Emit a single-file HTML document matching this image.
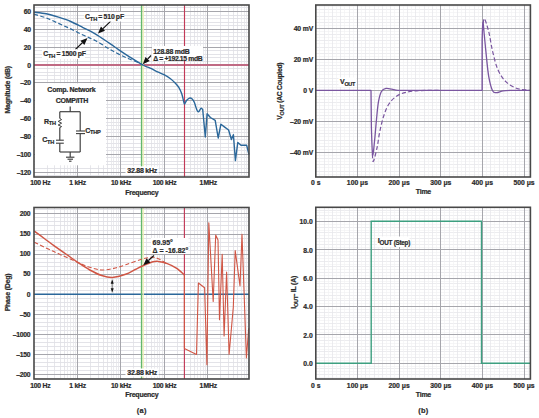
<!DOCTYPE html>
<html><head><meta charset="utf-8"><style>
html,body{margin:0;padding:0;background:#fff;width:539px;height:418px;overflow:hidden;position:relative}
</style></head><body>
<svg width="539" height="418" viewBox="0 0 539 418" style="position:absolute;left:0;top:0">
<rect width="539" height="418" fill="#fff"/>
<g font-family='"Liberation Sans", sans-serif' style="letter-spacing:-0.25px">
<line x1="34" y1="175.5" x2="249" y2="175.5" stroke="#dcdce2" stroke-width="0.8"/>
<line x1="34" y1="168.5" x2="249" y2="168.5" stroke="#dcdce2" stroke-width="0.8"/>
<line x1="34" y1="164.5" x2="249" y2="164.5" stroke="#dcdce2" stroke-width="0.8"/>
<line x1="34" y1="161.5" x2="249" y2="161.5" stroke="#dcdce2" stroke-width="0.8"/>
<line x1="34" y1="157.5" x2="249" y2="157.5" stroke="#dcdce2" stroke-width="0.8"/>
<line x1="34" y1="150.5" x2="249" y2="150.5" stroke="#dcdce2" stroke-width="0.8"/>
<line x1="34" y1="147.5" x2="249" y2="147.5" stroke="#dcdce2" stroke-width="0.8"/>
<line x1="34" y1="143.5" x2="249" y2="143.5" stroke="#dcdce2" stroke-width="0.8"/>
<line x1="34" y1="139.5" x2="249" y2="139.5" stroke="#dcdce2" stroke-width="0.8"/>
<line x1="34" y1="132.5" x2="249" y2="132.5" stroke="#dcdce2" stroke-width="0.8"/>
<line x1="34" y1="129.5" x2="249" y2="129.5" stroke="#dcdce2" stroke-width="0.8"/>
<line x1="34" y1="125.5" x2="249" y2="125.5" stroke="#dcdce2" stroke-width="0.8"/>
<line x1="34" y1="122.5" x2="249" y2="122.5" stroke="#dcdce2" stroke-width="0.8"/>
<line x1="34" y1="114.5" x2="249" y2="114.5" stroke="#dcdce2" stroke-width="0.8"/>
<line x1="34" y1="111.5" x2="249" y2="111.5" stroke="#dcdce2" stroke-width="0.8"/>
<line x1="34" y1="107.5" x2="249" y2="107.5" stroke="#dcdce2" stroke-width="0.8"/>
<line x1="34" y1="104.5" x2="249" y2="104.5" stroke="#dcdce2" stroke-width="0.8"/>
<line x1="34" y1="97.5" x2="249" y2="97.5" stroke="#dcdce2" stroke-width="0.8"/>
<line x1="34" y1="93.5" x2="249" y2="93.5" stroke="#dcdce2" stroke-width="0.8"/>
<line x1="34" y1="89.5" x2="249" y2="89.5" stroke="#dcdce2" stroke-width="0.8"/>
<line x1="34" y1="86.5" x2="249" y2="86.5" stroke="#dcdce2" stroke-width="0.8"/>
<line x1="34" y1="79.5" x2="249" y2="79.5" stroke="#dcdce2" stroke-width="0.8"/>
<line x1="34" y1="75.5" x2="249" y2="75.5" stroke="#dcdce2" stroke-width="0.8"/>
<line x1="34" y1="72.5" x2="249" y2="72.5" stroke="#dcdce2" stroke-width="0.8"/>
<line x1="34" y1="68.5" x2="249" y2="68.5" stroke="#dcdce2" stroke-width="0.8"/>
<line x1="34" y1="61.5" x2="249" y2="61.5" stroke="#dcdce2" stroke-width="0.8"/>
<line x1="34" y1="57.5" x2="249" y2="57.5" stroke="#dcdce2" stroke-width="0.8"/>
<line x1="34" y1="54.5" x2="249" y2="54.5" stroke="#dcdce2" stroke-width="0.8"/>
<line x1="34" y1="50.5" x2="249" y2="50.5" stroke="#dcdce2" stroke-width="0.8"/>
<line x1="34" y1="43.5" x2="249" y2="43.5" stroke="#dcdce2" stroke-width="0.8"/>
<line x1="34" y1="40.5" x2="249" y2="40.5" stroke="#dcdce2" stroke-width="0.8"/>
<line x1="34" y1="36.5" x2="249" y2="36.5" stroke="#dcdce2" stroke-width="0.8"/>
<line x1="34" y1="32.5" x2="249" y2="32.5" stroke="#dcdce2" stroke-width="0.8"/>
<line x1="34" y1="25.5" x2="249" y2="25.5" stroke="#dcdce2" stroke-width="0.8"/>
<line x1="34" y1="22.5" x2="249" y2="22.5" stroke="#dcdce2" stroke-width="0.8"/>
<line x1="34" y1="18.5" x2="249" y2="18.5" stroke="#dcdce2" stroke-width="0.8"/>
<line x1="34" y1="15.5" x2="249" y2="15.5" stroke="#dcdce2" stroke-width="0.8"/>
<line x1="34" y1="7.5" x2="249" y2="7.5" stroke="#dcdce2" stroke-width="0.8"/>
<line x1="47.5" y1="5" x2="47.5" y2="177" stroke="#dfdfe4" stroke-width="0.8"/>
<line x1="54.5" y1="5" x2="54.5" y2="177" stroke="#dfdfe4" stroke-width="0.8"/>
<line x1="60.5" y1="5" x2="60.5" y2="177" stroke="#dfdfe4" stroke-width="0.8"/>
<line x1="64.5" y1="5" x2="64.5" y2="177" stroke="#dfdfe4" stroke-width="0.8"/>
<line x1="67.5" y1="5" x2="67.5" y2="177" stroke="#e6e6ea" stroke-width="0.8"/>
<line x1="70.5" y1="5" x2="70.5" y2="177" stroke="#e6e6ea" stroke-width="0.8"/>
<line x1="73.5" y1="5" x2="73.5" y2="177" stroke="#e6e6ea" stroke-width="0.8"/>
<line x1="75.5" y1="5" x2="75.5" y2="177" stroke="#e6e6ea" stroke-width="0.8"/>
<line x1="90.5" y1="5" x2="90.5" y2="177" stroke="#dfdfe4" stroke-width="0.8"/>
<line x1="98.5" y1="5" x2="98.5" y2="177" stroke="#dfdfe4" stroke-width="0.8"/>
<line x1="103.5" y1="5" x2="103.5" y2="177" stroke="#dfdfe4" stroke-width="0.8"/>
<line x1="107.5" y1="5" x2="107.5" y2="177" stroke="#dfdfe4" stroke-width="0.8"/>
<line x1="111.5" y1="5" x2="111.5" y2="177" stroke="#e6e6ea" stroke-width="0.8"/>
<line x1="113.5" y1="5" x2="113.5" y2="177" stroke="#e6e6ea" stroke-width="0.8"/>
<line x1="116.5" y1="5" x2="116.5" y2="177" stroke="#e6e6ea" stroke-width="0.8"/>
<line x1="118.5" y1="5" x2="118.5" y2="177" stroke="#e6e6ea" stroke-width="0.8"/>
<line x1="133.5" y1="5" x2="133.5" y2="177" stroke="#dfdfe4" stroke-width="0.8"/>
<line x1="141.5" y1="5" x2="141.5" y2="177" stroke="#dfdfe4" stroke-width="0.8"/>
<line x1="146.5" y1="5" x2="146.5" y2="177" stroke="#dfdfe4" stroke-width="0.8"/>
<line x1="151.5" y1="5" x2="151.5" y2="177" stroke="#dfdfe4" stroke-width="0.8"/>
<line x1="154.5" y1="5" x2="154.5" y2="177" stroke="#e6e6ea" stroke-width="0.8"/>
<line x1="157.5" y1="5" x2="157.5" y2="177" stroke="#e6e6ea" stroke-width="0.8"/>
<line x1="159.5" y1="5" x2="159.5" y2="177" stroke="#e6e6ea" stroke-width="0.8"/>
<line x1="162.5" y1="5" x2="162.5" y2="177" stroke="#e6e6ea" stroke-width="0.8"/>
<line x1="177.5" y1="5" x2="177.5" y2="177" stroke="#dfdfe4" stroke-width="0.8"/>
<line x1="184.5" y1="5" x2="184.5" y2="177" stroke="#dfdfe4" stroke-width="0.8"/>
<line x1="190.5" y1="5" x2="190.5" y2="177" stroke="#dfdfe4" stroke-width="0.8"/>
<line x1="194.5" y1="5" x2="194.5" y2="177" stroke="#dfdfe4" stroke-width="0.8"/>
<line x1="197.5" y1="5" x2="197.5" y2="177" stroke="#e6e6ea" stroke-width="0.8"/>
<line x1="200.5" y1="5" x2="200.5" y2="177" stroke="#e6e6ea" stroke-width="0.8"/>
<line x1="203.5" y1="5" x2="203.5" y2="177" stroke="#e6e6ea" stroke-width="0.8"/>
<line x1="205.5" y1="5" x2="205.5" y2="177" stroke="#e6e6ea" stroke-width="0.8"/>
<line x1="220.5" y1="5" x2="220.5" y2="177" stroke="#dfdfe4" stroke-width="0.8"/>
<line x1="228.5" y1="5" x2="228.5" y2="177" stroke="#dfdfe4" stroke-width="0.8"/>
<line x1="233.5" y1="5" x2="233.5" y2="177" stroke="#dfdfe4" stroke-width="0.8"/>
<line x1="237.5" y1="5" x2="237.5" y2="177" stroke="#dfdfe4" stroke-width="0.8"/>
<line x1="241.5" y1="5" x2="241.5" y2="177" stroke="#e6e6ea" stroke-width="0.8"/>
<line x1="244.5" y1="5" x2="244.5" y2="177" stroke="#e6e6ea" stroke-width="0.8"/>
<line x1="246.5" y1="5" x2="246.5" y2="177" stroke="#e6e6ea" stroke-width="0.8"/>
<line x1="248.5" y1="5" x2="248.5" y2="177" stroke="#e6e6ea" stroke-width="0.8"/>
<line x1="34" y1="378.5" x2="249" y2="378.5" stroke="#dcdce2" stroke-width="0.8"/>
<line x1="34" y1="370.5" x2="249" y2="370.5" stroke="#dcdce2" stroke-width="0.8"/>
<line x1="34" y1="366.5" x2="249" y2="366.5" stroke="#dcdce2" stroke-width="0.8"/>
<line x1="34" y1="362.5" x2="249" y2="362.5" stroke="#dcdce2" stroke-width="0.8"/>
<line x1="34" y1="358.5" x2="249" y2="358.5" stroke="#dcdce2" stroke-width="0.8"/>
<line x1="34" y1="350.5" x2="249" y2="350.5" stroke="#dcdce2" stroke-width="0.8"/>
<line x1="34" y1="346.5" x2="249" y2="346.5" stroke="#dcdce2" stroke-width="0.8"/>
<line x1="34" y1="342.5" x2="249" y2="342.5" stroke="#dcdce2" stroke-width="0.8"/>
<line x1="34" y1="338.5" x2="249" y2="338.5" stroke="#dcdce2" stroke-width="0.8"/>
<line x1="34" y1="330.5" x2="249" y2="330.5" stroke="#dcdce2" stroke-width="0.8"/>
<line x1="34" y1="326.5" x2="249" y2="326.5" stroke="#dcdce2" stroke-width="0.8"/>
<line x1="34" y1="322.5" x2="249" y2="322.5" stroke="#dcdce2" stroke-width="0.8"/>
<line x1="34" y1="318.5" x2="249" y2="318.5" stroke="#dcdce2" stroke-width="0.8"/>
<line x1="34" y1="310.5" x2="249" y2="310.5" stroke="#dcdce2" stroke-width="0.8"/>
<line x1="34" y1="306.5" x2="249" y2="306.5" stroke="#dcdce2" stroke-width="0.8"/>
<line x1="34" y1="302.5" x2="249" y2="302.5" stroke="#dcdce2" stroke-width="0.8"/>
<line x1="34" y1="298.5" x2="249" y2="298.5" stroke="#dcdce2" stroke-width="0.8"/>
<line x1="34" y1="290.5" x2="249" y2="290.5" stroke="#dcdce2" stroke-width="0.8"/>
<line x1="34" y1="286.5" x2="249" y2="286.5" stroke="#dcdce2" stroke-width="0.8"/>
<line x1="34" y1="282.5" x2="249" y2="282.5" stroke="#dcdce2" stroke-width="0.8"/>
<line x1="34" y1="278.5" x2="249" y2="278.5" stroke="#dcdce2" stroke-width="0.8"/>
<line x1="34" y1="270.5" x2="249" y2="270.5" stroke="#dcdce2" stroke-width="0.8"/>
<line x1="34" y1="266.5" x2="249" y2="266.5" stroke="#dcdce2" stroke-width="0.8"/>
<line x1="34" y1="262.5" x2="249" y2="262.5" stroke="#dcdce2" stroke-width="0.8"/>
<line x1="34" y1="258.5" x2="249" y2="258.5" stroke="#dcdce2" stroke-width="0.8"/>
<line x1="34" y1="250.5" x2="249" y2="250.5" stroke="#dcdce2" stroke-width="0.8"/>
<line x1="34" y1="246.5" x2="249" y2="246.5" stroke="#dcdce2" stroke-width="0.8"/>
<line x1="34" y1="242.5" x2="249" y2="242.5" stroke="#dcdce2" stroke-width="0.8"/>
<line x1="34" y1="238.5" x2="249" y2="238.5" stroke="#dcdce2" stroke-width="0.8"/>
<line x1="34" y1="230.5" x2="249" y2="230.5" stroke="#dcdce2" stroke-width="0.8"/>
<line x1="34" y1="225.5" x2="249" y2="225.5" stroke="#dcdce2" stroke-width="0.8"/>
<line x1="34" y1="221.5" x2="249" y2="221.5" stroke="#dcdce2" stroke-width="0.8"/>
<line x1="34" y1="217.5" x2="249" y2="217.5" stroke="#dcdce2" stroke-width="0.8"/>
<line x1="34" y1="209.5" x2="249" y2="209.5" stroke="#dcdce2" stroke-width="0.8"/>
<line x1="47.5" y1="207.5" x2="47.5" y2="379" stroke="#dfdfe4" stroke-width="0.8"/>
<line x1="54.5" y1="207.5" x2="54.5" y2="379" stroke="#dfdfe4" stroke-width="0.8"/>
<line x1="60.5" y1="207.5" x2="60.5" y2="379" stroke="#dfdfe4" stroke-width="0.8"/>
<line x1="64.5" y1="207.5" x2="64.5" y2="379" stroke="#dfdfe4" stroke-width="0.8"/>
<line x1="67.5" y1="207.5" x2="67.5" y2="379" stroke="#e6e6ea" stroke-width="0.8"/>
<line x1="70.5" y1="207.5" x2="70.5" y2="379" stroke="#e6e6ea" stroke-width="0.8"/>
<line x1="73.5" y1="207.5" x2="73.5" y2="379" stroke="#e6e6ea" stroke-width="0.8"/>
<line x1="75.5" y1="207.5" x2="75.5" y2="379" stroke="#e6e6ea" stroke-width="0.8"/>
<line x1="90.5" y1="207.5" x2="90.5" y2="379" stroke="#dfdfe4" stroke-width="0.8"/>
<line x1="98.5" y1="207.5" x2="98.5" y2="379" stroke="#dfdfe4" stroke-width="0.8"/>
<line x1="103.5" y1="207.5" x2="103.5" y2="379" stroke="#dfdfe4" stroke-width="0.8"/>
<line x1="107.5" y1="207.5" x2="107.5" y2="379" stroke="#dfdfe4" stroke-width="0.8"/>
<line x1="111.5" y1="207.5" x2="111.5" y2="379" stroke="#e6e6ea" stroke-width="0.8"/>
<line x1="113.5" y1="207.5" x2="113.5" y2="379" stroke="#e6e6ea" stroke-width="0.8"/>
<line x1="116.5" y1="207.5" x2="116.5" y2="379" stroke="#e6e6ea" stroke-width="0.8"/>
<line x1="118.5" y1="207.5" x2="118.5" y2="379" stroke="#e6e6ea" stroke-width="0.8"/>
<line x1="133.5" y1="207.5" x2="133.5" y2="379" stroke="#dfdfe4" stroke-width="0.8"/>
<line x1="141.5" y1="207.5" x2="141.5" y2="379" stroke="#dfdfe4" stroke-width="0.8"/>
<line x1="146.5" y1="207.5" x2="146.5" y2="379" stroke="#dfdfe4" stroke-width="0.8"/>
<line x1="151.5" y1="207.5" x2="151.5" y2="379" stroke="#dfdfe4" stroke-width="0.8"/>
<line x1="154.5" y1="207.5" x2="154.5" y2="379" stroke="#e6e6ea" stroke-width="0.8"/>
<line x1="157.5" y1="207.5" x2="157.5" y2="379" stroke="#e6e6ea" stroke-width="0.8"/>
<line x1="159.5" y1="207.5" x2="159.5" y2="379" stroke="#e6e6ea" stroke-width="0.8"/>
<line x1="162.5" y1="207.5" x2="162.5" y2="379" stroke="#e6e6ea" stroke-width="0.8"/>
<line x1="177.5" y1="207.5" x2="177.5" y2="379" stroke="#dfdfe4" stroke-width="0.8"/>
<line x1="184.5" y1="207.5" x2="184.5" y2="379" stroke="#dfdfe4" stroke-width="0.8"/>
<line x1="190.5" y1="207.5" x2="190.5" y2="379" stroke="#dfdfe4" stroke-width="0.8"/>
<line x1="194.5" y1="207.5" x2="194.5" y2="379" stroke="#dfdfe4" stroke-width="0.8"/>
<line x1="197.5" y1="207.5" x2="197.5" y2="379" stroke="#e6e6ea" stroke-width="0.8"/>
<line x1="200.5" y1="207.5" x2="200.5" y2="379" stroke="#e6e6ea" stroke-width="0.8"/>
<line x1="203.5" y1="207.5" x2="203.5" y2="379" stroke="#e6e6ea" stroke-width="0.8"/>
<line x1="205.5" y1="207.5" x2="205.5" y2="379" stroke="#e6e6ea" stroke-width="0.8"/>
<line x1="220.5" y1="207.5" x2="220.5" y2="379" stroke="#dfdfe4" stroke-width="0.8"/>
<line x1="228.5" y1="207.5" x2="228.5" y2="379" stroke="#dfdfe4" stroke-width="0.8"/>
<line x1="233.5" y1="207.5" x2="233.5" y2="379" stroke="#dfdfe4" stroke-width="0.8"/>
<line x1="237.5" y1="207.5" x2="237.5" y2="379" stroke="#dfdfe4" stroke-width="0.8"/>
<line x1="241.5" y1="207.5" x2="241.5" y2="379" stroke="#e6e6ea" stroke-width="0.8"/>
<line x1="244.5" y1="207.5" x2="244.5" y2="379" stroke="#e6e6ea" stroke-width="0.8"/>
<line x1="246.5" y1="207.5" x2="246.5" y2="379" stroke="#e6e6ea" stroke-width="0.8"/>
<line x1="248.5" y1="207.5" x2="248.5" y2="379" stroke="#e6e6ea" stroke-width="0.8"/>
<line x1="315.8" y1="174.5" x2="530.4" y2="174.5" stroke="#f2f2f4" stroke-width="0.7"/>
<line x1="315.8" y1="171.5" x2="530.4" y2="171.5" stroke="#e7e7eb" stroke-width="0.8"/>
<line x1="315.8" y1="167.5" x2="530.4" y2="167.5" stroke="#f2f2f4" stroke-width="0.7"/>
<line x1="315.8" y1="164.5" x2="530.4" y2="164.5" stroke="#e7e7eb" stroke-width="0.8"/>
<line x1="315.8" y1="161.5" x2="530.4" y2="161.5" stroke="#f2f2f4" stroke-width="0.7"/>
<line x1="315.8" y1="158.5" x2="530.4" y2="158.5" stroke="#e7e7eb" stroke-width="0.8"/>
<line x1="315.8" y1="155.5" x2="530.4" y2="155.5" stroke="#f2f2f4" stroke-width="0.7"/>
<line x1="315.8" y1="149.5" x2="530.4" y2="149.5" stroke="#f2f2f4" stroke-width="0.7"/>
<line x1="315.8" y1="146.5" x2="530.4" y2="146.5" stroke="#e7e7eb" stroke-width="0.8"/>
<line x1="315.8" y1="143.5" x2="530.4" y2="143.5" stroke="#f2f2f4" stroke-width="0.7"/>
<line x1="315.8" y1="140.5" x2="530.4" y2="140.5" stroke="#e7e7eb" stroke-width="0.8"/>
<line x1="315.8" y1="136.5" x2="530.4" y2="136.5" stroke="#f2f2f4" stroke-width="0.7"/>
<line x1="315.8" y1="133.5" x2="530.4" y2="133.5" stroke="#e7e7eb" stroke-width="0.8"/>
<line x1="315.8" y1="130.5" x2="530.4" y2="130.5" stroke="#f2f2f4" stroke-width="0.7"/>
<line x1="315.8" y1="127.5" x2="530.4" y2="127.5" stroke="#e7e7eb" stroke-width="0.8"/>
<line x1="315.8" y1="124.5" x2="530.4" y2="124.5" stroke="#f2f2f4" stroke-width="0.7"/>
<line x1="315.8" y1="118.5" x2="530.4" y2="118.5" stroke="#f2f2f4" stroke-width="0.7"/>
<line x1="315.8" y1="115.5" x2="530.4" y2="115.5" stroke="#e7e7eb" stroke-width="0.8"/>
<line x1="315.8" y1="112.5" x2="530.4" y2="112.5" stroke="#f2f2f4" stroke-width="0.7"/>
<line x1="315.8" y1="109.5" x2="530.4" y2="109.5" stroke="#e7e7eb" stroke-width="0.8"/>
<line x1="315.8" y1="105.5" x2="530.4" y2="105.5" stroke="#f2f2f4" stroke-width="0.7"/>
<line x1="315.8" y1="102.5" x2="530.4" y2="102.5" stroke="#e7e7eb" stroke-width="0.8"/>
<line x1="315.8" y1="99.5" x2="530.4" y2="99.5" stroke="#f2f2f4" stroke-width="0.7"/>
<line x1="315.8" y1="96.5" x2="530.4" y2="96.5" stroke="#e7e7eb" stroke-width="0.8"/>
<line x1="315.8" y1="93.5" x2="530.4" y2="93.5" stroke="#f2f2f4" stroke-width="0.7"/>
<line x1="315.8" y1="87.5" x2="530.4" y2="87.5" stroke="#f2f2f4" stroke-width="0.7"/>
<line x1="315.8" y1="84.5" x2="530.4" y2="84.5" stroke="#e7e7eb" stroke-width="0.8"/>
<line x1="315.8" y1="81.5" x2="530.4" y2="81.5" stroke="#f2f2f4" stroke-width="0.7"/>
<line x1="315.8" y1="78.5" x2="530.4" y2="78.5" stroke="#e7e7eb" stroke-width="0.8"/>
<line x1="315.8" y1="74.5" x2="530.4" y2="74.5" stroke="#f2f2f4" stroke-width="0.7"/>
<line x1="315.8" y1="71.5" x2="530.4" y2="71.5" stroke="#e7e7eb" stroke-width="0.8"/>
<line x1="315.8" y1="68.5" x2="530.4" y2="68.5" stroke="#f2f2f4" stroke-width="0.7"/>
<line x1="315.8" y1="65.5" x2="530.4" y2="65.5" stroke="#e7e7eb" stroke-width="0.8"/>
<line x1="315.8" y1="62.5" x2="530.4" y2="62.5" stroke="#f2f2f4" stroke-width="0.7"/>
<line x1="315.8" y1="56.5" x2="530.4" y2="56.5" stroke="#f2f2f4" stroke-width="0.7"/>
<line x1="315.8" y1="53.5" x2="530.4" y2="53.5" stroke="#e7e7eb" stroke-width="0.8"/>
<line x1="315.8" y1="50.5" x2="530.4" y2="50.5" stroke="#f2f2f4" stroke-width="0.7"/>
<line x1="315.8" y1="47.5" x2="530.4" y2="47.5" stroke="#e7e7eb" stroke-width="0.8"/>
<line x1="315.8" y1="43.5" x2="530.4" y2="43.5" stroke="#f2f2f4" stroke-width="0.7"/>
<line x1="315.8" y1="40.5" x2="530.4" y2="40.5" stroke="#e7e7eb" stroke-width="0.8"/>
<line x1="315.8" y1="37.5" x2="530.4" y2="37.5" stroke="#f2f2f4" stroke-width="0.7"/>
<line x1="315.8" y1="34.5" x2="530.4" y2="34.5" stroke="#e7e7eb" stroke-width="0.8"/>
<line x1="315.8" y1="31.5" x2="530.4" y2="31.5" stroke="#f2f2f4" stroke-width="0.7"/>
<line x1="315.8" y1="25.5" x2="530.4" y2="25.5" stroke="#f2f2f4" stroke-width="0.7"/>
<line x1="315.8" y1="22.5" x2="530.4" y2="22.5" stroke="#e7e7eb" stroke-width="0.8"/>
<line x1="315.8" y1="19.5" x2="530.4" y2="19.5" stroke="#f2f2f4" stroke-width="0.7"/>
<line x1="315.8" y1="16.5" x2="530.4" y2="16.5" stroke="#e7e7eb" stroke-width="0.8"/>
<line x1="315.8" y1="12.5" x2="530.4" y2="12.5" stroke="#f2f2f4" stroke-width="0.7"/>
<line x1="315.8" y1="9.5" x2="530.4" y2="9.5" stroke="#e7e7eb" stroke-width="0.8"/>
<line x1="315.8" y1="6.5" x2="530.4" y2="6.5" stroke="#f2f2f4" stroke-width="0.7"/>
<line x1="319.5" y1="5" x2="319.5" y2="177" stroke="#f2f2f4" stroke-width="0.7"/>
<line x1="324.5" y1="5" x2="324.5" y2="177" stroke="#e7e7eb" stroke-width="0.8"/>
<line x1="328.5" y1="5" x2="328.5" y2="177" stroke="#f2f2f4" stroke-width="0.7"/>
<line x1="332.5" y1="5" x2="332.5" y2="177" stroke="#e7e7eb" stroke-width="0.8"/>
<line x1="336.5" y1="5" x2="336.5" y2="177" stroke="#f2f2f4" stroke-width="0.7"/>
<line x1="340.5" y1="5" x2="340.5" y2="177" stroke="#e7e7eb" stroke-width="0.8"/>
<line x1="344.5" y1="5" x2="344.5" y2="177" stroke="#f2f2f4" stroke-width="0.7"/>
<line x1="349.5" y1="5" x2="349.5" y2="177" stroke="#e7e7eb" stroke-width="0.8"/>
<line x1="353.5" y1="5" x2="353.5" y2="177" stroke="#f2f2f4" stroke-width="0.7"/>
<line x1="361.5" y1="5" x2="361.5" y2="177" stroke="#f2f2f4" stroke-width="0.7"/>
<line x1="365.5" y1="5" x2="365.5" y2="177" stroke="#e7e7eb" stroke-width="0.8"/>
<line x1="369.5" y1="5" x2="369.5" y2="177" stroke="#f2f2f4" stroke-width="0.7"/>
<line x1="374.5" y1="5" x2="374.5" y2="177" stroke="#e7e7eb" stroke-width="0.8"/>
<line x1="378.5" y1="5" x2="378.5" y2="177" stroke="#f2f2f4" stroke-width="0.7"/>
<line x1="382.5" y1="5" x2="382.5" y2="177" stroke="#e7e7eb" stroke-width="0.8"/>
<line x1="386.5" y1="5" x2="386.5" y2="177" stroke="#f2f2f4" stroke-width="0.7"/>
<line x1="390.5" y1="5" x2="390.5" y2="177" stroke="#e7e7eb" stroke-width="0.8"/>
<line x1="394.5" y1="5" x2="394.5" y2="177" stroke="#f2f2f4" stroke-width="0.7"/>
<line x1="403.5" y1="5" x2="403.5" y2="177" stroke="#f2f2f4" stroke-width="0.7"/>
<line x1="407.5" y1="5" x2="407.5" y2="177" stroke="#e7e7eb" stroke-width="0.8"/>
<line x1="411.5" y1="5" x2="411.5" y2="177" stroke="#f2f2f4" stroke-width="0.7"/>
<line x1="415.5" y1="5" x2="415.5" y2="177" stroke="#e7e7eb" stroke-width="0.8"/>
<line x1="419.5" y1="5" x2="419.5" y2="177" stroke="#f2f2f4" stroke-width="0.7"/>
<line x1="424.5" y1="5" x2="424.5" y2="177" stroke="#e7e7eb" stroke-width="0.8"/>
<line x1="428.5" y1="5" x2="428.5" y2="177" stroke="#f2f2f4" stroke-width="0.7"/>
<line x1="432.5" y1="5" x2="432.5" y2="177" stroke="#e7e7eb" stroke-width="0.8"/>
<line x1="436.5" y1="5" x2="436.5" y2="177" stroke="#f2f2f4" stroke-width="0.7"/>
<line x1="444.5" y1="5" x2="444.5" y2="177" stroke="#f2f2f4" stroke-width="0.7"/>
<line x1="449.5" y1="5" x2="449.5" y2="177" stroke="#e7e7eb" stroke-width="0.8"/>
<line x1="453.5" y1="5" x2="453.5" y2="177" stroke="#f2f2f4" stroke-width="0.7"/>
<line x1="457.5" y1="5" x2="457.5" y2="177" stroke="#e7e7eb" stroke-width="0.8"/>
<line x1="461.5" y1="5" x2="461.5" y2="177" stroke="#f2f2f4" stroke-width="0.7"/>
<line x1="465.5" y1="5" x2="465.5" y2="177" stroke="#e7e7eb" stroke-width="0.8"/>
<line x1="469.5" y1="5" x2="469.5" y2="177" stroke="#f2f2f4" stroke-width="0.7"/>
<line x1="474.5" y1="5" x2="474.5" y2="177" stroke="#e7e7eb" stroke-width="0.8"/>
<line x1="478.5" y1="5" x2="478.5" y2="177" stroke="#f2f2f4" stroke-width="0.7"/>
<line x1="486.5" y1="5" x2="486.5" y2="177" stroke="#f2f2f4" stroke-width="0.7"/>
<line x1="490.5" y1="5" x2="490.5" y2="177" stroke="#e7e7eb" stroke-width="0.8"/>
<line x1="494.5" y1="5" x2="494.5" y2="177" stroke="#f2f2f4" stroke-width="0.7"/>
<line x1="499.5" y1="5" x2="499.5" y2="177" stroke="#e7e7eb" stroke-width="0.8"/>
<line x1="503.5" y1="5" x2="503.5" y2="177" stroke="#f2f2f4" stroke-width="0.7"/>
<line x1="507.5" y1="5" x2="507.5" y2="177" stroke="#e7e7eb" stroke-width="0.8"/>
<line x1="511.5" y1="5" x2="511.5" y2="177" stroke="#f2f2f4" stroke-width="0.7"/>
<line x1="515.5" y1="5" x2="515.5" y2="177" stroke="#e7e7eb" stroke-width="0.8"/>
<line x1="519.5" y1="5" x2="519.5" y2="177" stroke="#f2f2f4" stroke-width="0.7"/>
<line x1="528.5" y1="5" x2="528.5" y2="177" stroke="#f2f2f4" stroke-width="0.7"/>
<line x1="315.8" y1="377.5" x2="530.4" y2="377.5" stroke="#f2f2f4" stroke-width="0.7"/>
<line x1="315.8" y1="374.5" x2="530.4" y2="374.5" stroke="#e7e7eb" stroke-width="0.8"/>
<line x1="315.8" y1="371.5" x2="530.4" y2="371.5" stroke="#f2f2f4" stroke-width="0.7"/>
<line x1="315.8" y1="368.5" x2="530.4" y2="368.5" stroke="#e7e7eb" stroke-width="0.8"/>
<line x1="315.8" y1="366.5" x2="530.4" y2="366.5" stroke="#f2f2f4" stroke-width="0.7"/>
<line x1="315.8" y1="360.5" x2="530.4" y2="360.5" stroke="#f2f2f4" stroke-width="0.7"/>
<line x1="315.8" y1="357.5" x2="530.4" y2="357.5" stroke="#e7e7eb" stroke-width="0.8"/>
<line x1="315.8" y1="354.5" x2="530.4" y2="354.5" stroke="#f2f2f4" stroke-width="0.7"/>
<line x1="315.8" y1="351.5" x2="530.4" y2="351.5" stroke="#e7e7eb" stroke-width="0.8"/>
<line x1="315.8" y1="349.5" x2="530.4" y2="349.5" stroke="#f2f2f4" stroke-width="0.7"/>
<line x1="315.8" y1="346.5" x2="530.4" y2="346.5" stroke="#e7e7eb" stroke-width="0.8"/>
<line x1="315.8" y1="343.5" x2="530.4" y2="343.5" stroke="#f2f2f4" stroke-width="0.7"/>
<line x1="315.8" y1="340.5" x2="530.4" y2="340.5" stroke="#e7e7eb" stroke-width="0.8"/>
<line x1="315.8" y1="337.5" x2="530.4" y2="337.5" stroke="#f2f2f4" stroke-width="0.7"/>
<line x1="315.8" y1="332.5" x2="530.4" y2="332.5" stroke="#f2f2f4" stroke-width="0.7"/>
<line x1="315.8" y1="329.5" x2="530.4" y2="329.5" stroke="#e7e7eb" stroke-width="0.8"/>
<line x1="315.8" y1="326.5" x2="530.4" y2="326.5" stroke="#f2f2f4" stroke-width="0.7"/>
<line x1="315.8" y1="323.5" x2="530.4" y2="323.5" stroke="#e7e7eb" stroke-width="0.8"/>
<line x1="315.8" y1="320.5" x2="530.4" y2="320.5" stroke="#f2f2f4" stroke-width="0.7"/>
<line x1="315.8" y1="317.5" x2="530.4" y2="317.5" stroke="#e7e7eb" stroke-width="0.8"/>
<line x1="315.8" y1="315.5" x2="530.4" y2="315.5" stroke="#f2f2f4" stroke-width="0.7"/>
<line x1="315.8" y1="312.5" x2="530.4" y2="312.5" stroke="#e7e7eb" stroke-width="0.8"/>
<line x1="315.8" y1="309.5" x2="530.4" y2="309.5" stroke="#f2f2f4" stroke-width="0.7"/>
<line x1="315.8" y1="303.5" x2="530.4" y2="303.5" stroke="#f2f2f4" stroke-width="0.7"/>
<line x1="315.8" y1="300.5" x2="530.4" y2="300.5" stroke="#e7e7eb" stroke-width="0.8"/>
<line x1="315.8" y1="298.5" x2="530.4" y2="298.5" stroke="#f2f2f4" stroke-width="0.7"/>
<line x1="315.8" y1="295.5" x2="530.4" y2="295.5" stroke="#e7e7eb" stroke-width="0.8"/>
<line x1="315.8" y1="292.5" x2="530.4" y2="292.5" stroke="#f2f2f4" stroke-width="0.7"/>
<line x1="315.8" y1="289.5" x2="530.4" y2="289.5" stroke="#e7e7eb" stroke-width="0.8"/>
<line x1="315.8" y1="286.5" x2="530.4" y2="286.5" stroke="#f2f2f4" stroke-width="0.7"/>
<line x1="315.8" y1="283.5" x2="530.4" y2="283.5" stroke="#e7e7eb" stroke-width="0.8"/>
<line x1="315.8" y1="281.5" x2="530.4" y2="281.5" stroke="#f2f2f4" stroke-width="0.7"/>
<line x1="315.8" y1="275.5" x2="530.4" y2="275.5" stroke="#f2f2f4" stroke-width="0.7"/>
<line x1="315.8" y1="272.5" x2="530.4" y2="272.5" stroke="#e7e7eb" stroke-width="0.8"/>
<line x1="315.8" y1="269.5" x2="530.4" y2="269.5" stroke="#f2f2f4" stroke-width="0.7"/>
<line x1="315.8" y1="266.5" x2="530.4" y2="266.5" stroke="#e7e7eb" stroke-width="0.8"/>
<line x1="315.8" y1="264.5" x2="530.4" y2="264.5" stroke="#f2f2f4" stroke-width="0.7"/>
<line x1="315.8" y1="261.5" x2="530.4" y2="261.5" stroke="#e7e7eb" stroke-width="0.8"/>
<line x1="315.8" y1="258.5" x2="530.4" y2="258.5" stroke="#f2f2f4" stroke-width="0.7"/>
<line x1="315.8" y1="255.5" x2="530.4" y2="255.5" stroke="#e7e7eb" stroke-width="0.8"/>
<line x1="315.8" y1="252.5" x2="530.4" y2="252.5" stroke="#f2f2f4" stroke-width="0.7"/>
<line x1="315.8" y1="247.5" x2="530.4" y2="247.5" stroke="#f2f2f4" stroke-width="0.7"/>
<line x1="315.8" y1="244.5" x2="530.4" y2="244.5" stroke="#e7e7eb" stroke-width="0.8"/>
<line x1="315.8" y1="241.5" x2="530.4" y2="241.5" stroke="#f2f2f4" stroke-width="0.7"/>
<line x1="315.8" y1="238.5" x2="530.4" y2="238.5" stroke="#e7e7eb" stroke-width="0.8"/>
<line x1="315.8" y1="235.5" x2="530.4" y2="235.5" stroke="#f2f2f4" stroke-width="0.7"/>
<line x1="315.8" y1="232.5" x2="530.4" y2="232.5" stroke="#e7e7eb" stroke-width="0.8"/>
<line x1="315.8" y1="230.5" x2="530.4" y2="230.5" stroke="#f2f2f4" stroke-width="0.7"/>
<line x1="315.8" y1="227.5" x2="530.4" y2="227.5" stroke="#e7e7eb" stroke-width="0.8"/>
<line x1="315.8" y1="224.5" x2="530.4" y2="224.5" stroke="#f2f2f4" stroke-width="0.7"/>
<line x1="315.8" y1="218.5" x2="530.4" y2="218.5" stroke="#f2f2f4" stroke-width="0.7"/>
<line x1="315.8" y1="215.5" x2="530.4" y2="215.5" stroke="#e7e7eb" stroke-width="0.8"/>
<line x1="315.8" y1="212.5" x2="530.4" y2="212.5" stroke="#f2f2f4" stroke-width="0.7"/>
<line x1="315.8" y1="210.5" x2="530.4" y2="210.5" stroke="#e7e7eb" stroke-width="0.8"/>
<line x1="315.8" y1="207.5" x2="530.4" y2="207.5" stroke="#f2f2f4" stroke-width="0.7"/>
<line x1="319.5" y1="207.3" x2="319.5" y2="379" stroke="#f2f2f4" stroke-width="0.7"/>
<line x1="324.5" y1="207.3" x2="324.5" y2="379" stroke="#e7e7eb" stroke-width="0.8"/>
<line x1="328.5" y1="207.3" x2="328.5" y2="379" stroke="#f2f2f4" stroke-width="0.7"/>
<line x1="332.5" y1="207.3" x2="332.5" y2="379" stroke="#e7e7eb" stroke-width="0.8"/>
<line x1="336.5" y1="207.3" x2="336.5" y2="379" stroke="#f2f2f4" stroke-width="0.7"/>
<line x1="340.5" y1="207.3" x2="340.5" y2="379" stroke="#e7e7eb" stroke-width="0.8"/>
<line x1="344.5" y1="207.3" x2="344.5" y2="379" stroke="#f2f2f4" stroke-width="0.7"/>
<line x1="349.5" y1="207.3" x2="349.5" y2="379" stroke="#e7e7eb" stroke-width="0.8"/>
<line x1="353.5" y1="207.3" x2="353.5" y2="379" stroke="#f2f2f4" stroke-width="0.7"/>
<line x1="361.5" y1="207.3" x2="361.5" y2="379" stroke="#f2f2f4" stroke-width="0.7"/>
<line x1="365.5" y1="207.3" x2="365.5" y2="379" stroke="#e7e7eb" stroke-width="0.8"/>
<line x1="369.5" y1="207.3" x2="369.5" y2="379" stroke="#f2f2f4" stroke-width="0.7"/>
<line x1="374.5" y1="207.3" x2="374.5" y2="379" stroke="#e7e7eb" stroke-width="0.8"/>
<line x1="378.5" y1="207.3" x2="378.5" y2="379" stroke="#f2f2f4" stroke-width="0.7"/>
<line x1="382.5" y1="207.3" x2="382.5" y2="379" stroke="#e7e7eb" stroke-width="0.8"/>
<line x1="386.5" y1="207.3" x2="386.5" y2="379" stroke="#f2f2f4" stroke-width="0.7"/>
<line x1="390.5" y1="207.3" x2="390.5" y2="379" stroke="#e7e7eb" stroke-width="0.8"/>
<line x1="394.5" y1="207.3" x2="394.5" y2="379" stroke="#f2f2f4" stroke-width="0.7"/>
<line x1="403.5" y1="207.3" x2="403.5" y2="379" stroke="#f2f2f4" stroke-width="0.7"/>
<line x1="407.5" y1="207.3" x2="407.5" y2="379" stroke="#e7e7eb" stroke-width="0.8"/>
<line x1="411.5" y1="207.3" x2="411.5" y2="379" stroke="#f2f2f4" stroke-width="0.7"/>
<line x1="415.5" y1="207.3" x2="415.5" y2="379" stroke="#e7e7eb" stroke-width="0.8"/>
<line x1="419.5" y1="207.3" x2="419.5" y2="379" stroke="#f2f2f4" stroke-width="0.7"/>
<line x1="424.5" y1="207.3" x2="424.5" y2="379" stroke="#e7e7eb" stroke-width="0.8"/>
<line x1="428.5" y1="207.3" x2="428.5" y2="379" stroke="#f2f2f4" stroke-width="0.7"/>
<line x1="432.5" y1="207.3" x2="432.5" y2="379" stroke="#e7e7eb" stroke-width="0.8"/>
<line x1="436.5" y1="207.3" x2="436.5" y2="379" stroke="#f2f2f4" stroke-width="0.7"/>
<line x1="444.5" y1="207.3" x2="444.5" y2="379" stroke="#f2f2f4" stroke-width="0.7"/>
<line x1="449.5" y1="207.3" x2="449.5" y2="379" stroke="#e7e7eb" stroke-width="0.8"/>
<line x1="453.5" y1="207.3" x2="453.5" y2="379" stroke="#f2f2f4" stroke-width="0.7"/>
<line x1="457.5" y1="207.3" x2="457.5" y2="379" stroke="#e7e7eb" stroke-width="0.8"/>
<line x1="461.5" y1="207.3" x2="461.5" y2="379" stroke="#f2f2f4" stroke-width="0.7"/>
<line x1="465.5" y1="207.3" x2="465.5" y2="379" stroke="#e7e7eb" stroke-width="0.8"/>
<line x1="469.5" y1="207.3" x2="469.5" y2="379" stroke="#f2f2f4" stroke-width="0.7"/>
<line x1="474.5" y1="207.3" x2="474.5" y2="379" stroke="#e7e7eb" stroke-width="0.8"/>
<line x1="478.5" y1="207.3" x2="478.5" y2="379" stroke="#f2f2f4" stroke-width="0.7"/>
<line x1="486.5" y1="207.3" x2="486.5" y2="379" stroke="#f2f2f4" stroke-width="0.7"/>
<line x1="490.5" y1="207.3" x2="490.5" y2="379" stroke="#e7e7eb" stroke-width="0.8"/>
<line x1="494.5" y1="207.3" x2="494.5" y2="379" stroke="#f2f2f4" stroke-width="0.7"/>
<line x1="499.5" y1="207.3" x2="499.5" y2="379" stroke="#e7e7eb" stroke-width="0.8"/>
<line x1="503.5" y1="207.3" x2="503.5" y2="379" stroke="#f2f2f4" stroke-width="0.7"/>
<line x1="507.5" y1="207.3" x2="507.5" y2="379" stroke="#e7e7eb" stroke-width="0.8"/>
<line x1="511.5" y1="207.3" x2="511.5" y2="379" stroke="#f2f2f4" stroke-width="0.7"/>
<line x1="515.5" y1="207.3" x2="515.5" y2="379" stroke="#e7e7eb" stroke-width="0.8"/>
<line x1="519.5" y1="207.3" x2="519.5" y2="379" stroke="#f2f2f4" stroke-width="0.7"/>
<line x1="528.5" y1="207.3" x2="528.5" y2="379" stroke="#f2f2f4" stroke-width="0.7"/>
<line x1="34" y1="172.5" x2="249" y2="172.5" stroke="#a6a6ac" stroke-width="1.0"/>
<line x1="34" y1="154.5" x2="249" y2="154.5" stroke="#a6a6ac" stroke-width="1.0"/>
<line x1="34" y1="136.5" x2="249" y2="136.5" stroke="#a6a6ac" stroke-width="1.0"/>
<line x1="34" y1="118.5" x2="249" y2="118.5" stroke="#a6a6ac" stroke-width="1.0"/>
<line x1="34" y1="100.5" x2="249" y2="100.5" stroke="#a6a6ac" stroke-width="1.0"/>
<line x1="34" y1="82.5" x2="249" y2="82.5" stroke="#a6a6ac" stroke-width="1.0"/>
<line x1="34" y1="65.5" x2="249" y2="65.5" stroke="#a6a6ac" stroke-width="1.0"/>
<line x1="34" y1="47.5" x2="249" y2="47.5" stroke="#a6a6ac" stroke-width="1.0"/>
<line x1="34" y1="29.5" x2="249" y2="29.5" stroke="#a6a6ac" stroke-width="1.0"/>
<line x1="34" y1="11.5" x2="249" y2="11.5" stroke="#a6a6ac" stroke-width="1.0"/>
<line x1="77.5" y1="5" x2="77.5" y2="177" stroke="#a6a6ac" stroke-width="1.0"/>
<line x1="120.5" y1="5" x2="120.5" y2="177" stroke="#a6a6ac" stroke-width="1.0"/>
<line x1="164.5" y1="5" x2="164.5" y2="177" stroke="#a6a6ac" stroke-width="1.0"/>
<line x1="207.5" y1="5" x2="207.5" y2="177" stroke="#a6a6ac" stroke-width="1.0"/>
<line x1="34" y1="374.5" x2="249" y2="374.5" stroke="#a6a6ac" stroke-width="1.0"/>
<line x1="34" y1="354.5" x2="249" y2="354.5" stroke="#a6a6ac" stroke-width="1.0"/>
<line x1="34" y1="334.5" x2="249" y2="334.5" stroke="#a6a6ac" stroke-width="1.0"/>
<line x1="34" y1="314.5" x2="249" y2="314.5" stroke="#a6a6ac" stroke-width="1.0"/>
<line x1="34" y1="294.5" x2="249" y2="294.5" stroke="#a6a6ac" stroke-width="1.0"/>
<line x1="34" y1="274.5" x2="249" y2="274.5" stroke="#a6a6ac" stroke-width="1.0"/>
<line x1="34" y1="254.5" x2="249" y2="254.5" stroke="#a6a6ac" stroke-width="1.0"/>
<line x1="34" y1="234.5" x2="249" y2="234.5" stroke="#a6a6ac" stroke-width="1.0"/>
<line x1="34" y1="213.5" x2="249" y2="213.5" stroke="#a6a6ac" stroke-width="1.0"/>
<line x1="77.5" y1="207.5" x2="77.5" y2="379" stroke="#a6a6ac" stroke-width="1.0"/>
<line x1="120.5" y1="207.5" x2="120.5" y2="379" stroke="#a6a6ac" stroke-width="1.0"/>
<line x1="164.5" y1="207.5" x2="164.5" y2="379" stroke="#a6a6ac" stroke-width="1.0"/>
<line x1="207.5" y1="207.5" x2="207.5" y2="379" stroke="#a6a6ac" stroke-width="1.0"/>
<line x1="315.8" y1="152.5" x2="530.4" y2="152.5" stroke="#a6a6ac" stroke-width="1.0"/>
<line x1="315.8" y1="121.5" x2="530.4" y2="121.5" stroke="#a6a6ac" stroke-width="1.0"/>
<line x1="315.8" y1="90.5" x2="530.4" y2="90.5" stroke="#a6a6ac" stroke-width="1.0"/>
<line x1="315.8" y1="59.5" x2="530.4" y2="59.5" stroke="#a6a6ac" stroke-width="1.0"/>
<line x1="315.8" y1="28.5" x2="530.4" y2="28.5" stroke="#a6a6ac" stroke-width="1.0"/>
<line x1="357.5" y1="5" x2="357.5" y2="177" stroke="#a6a6ac" stroke-width="1.0"/>
<line x1="399.5" y1="5" x2="399.5" y2="177" stroke="#a6a6ac" stroke-width="1.0"/>
<line x1="440.5" y1="5" x2="440.5" y2="177" stroke="#a6a6ac" stroke-width="1.0"/>
<line x1="482.5" y1="5" x2="482.5" y2="177" stroke="#a6a6ac" stroke-width="1.0"/>
<line x1="524.5" y1="5" x2="524.5" y2="177" stroke="#a6a6ac" stroke-width="1.0"/>
<line x1="315.8" y1="363.5" x2="530.4" y2="363.5" stroke="#a6a6ac" stroke-width="1.0"/>
<line x1="315.8" y1="334.5" x2="530.4" y2="334.5" stroke="#a6a6ac" stroke-width="1.0"/>
<line x1="315.8" y1="306.5" x2="530.4" y2="306.5" stroke="#a6a6ac" stroke-width="1.0"/>
<line x1="315.8" y1="278.5" x2="530.4" y2="278.5" stroke="#a6a6ac" stroke-width="1.0"/>
<line x1="315.8" y1="249.5" x2="530.4" y2="249.5" stroke="#a6a6ac" stroke-width="1.0"/>
<line x1="315.8" y1="221.5" x2="530.4" y2="221.5" stroke="#a6a6ac" stroke-width="1.0"/>
<line x1="357.5" y1="207.3" x2="357.5" y2="379" stroke="#a6a6ac" stroke-width="1.0"/>
<line x1="399.5" y1="207.3" x2="399.5" y2="379" stroke="#a6a6ac" stroke-width="1.0"/>
<line x1="440.5" y1="207.3" x2="440.5" y2="379" stroke="#a6a6ac" stroke-width="1.0"/>
<line x1="482.5" y1="207.3" x2="482.5" y2="379" stroke="#a6a6ac" stroke-width="1.0"/>
<line x1="524.5" y1="207.3" x2="524.5" y2="379" stroke="#a6a6ac" stroke-width="1.0"/>
<rect x="35" y="83.3" width="71" height="82" fill="#fff"/>
<line x1="34" y1="65" x2="249" y2="65" stroke="#c06a84" stroke-width="1.8"/>
<line x1="184.5" y1="5" x2="184.5" y2="177" stroke="#c23a58" stroke-width="1.15"/>
<line x1="141.6" y1="5" x2="141.6" y2="166.5" stroke="#62b86c" stroke-width="1.5"/>
<line x1="143.2" y1="5" x2="143.2" y2="166.5" stroke="#f0f0b8" stroke-width="1.3"/>
<path d="M34,12.3 C36.03,12.55 42.12,12.98 46.2,13.8 C50.28,14.62 54.42,15.92 58.5,17.2 C62.58,18.48 66.62,19.77 70.7,21.5 C74.78,23.23 78.92,25.55 83,27.6 C87.08,29.65 90.77,31.17 95.2,33.8 C99.63,36.43 105.6,40.68 109.6,43.4 C113.6,46.12 116.02,47.95 119.2,50.1 C122.38,52.25 124.75,53.82 128.7,56.3 C132.65,58.78 139.32,63.02 142.9,65 C146.48,66.98 147.63,67 150.2,68.2 C152.77,69.4 156,71.12 158.3,72.2 C160.6,73.28 161.97,73.62 164,74.7 C166.03,75.78 168.6,77.28 170.5,78.7 C172.4,80.12 174.02,81.77 175.4,83.2 C176.78,84.63 177.73,85.52 178.8,87.3 C179.87,89.08 181.05,91.8 181.8,93.9 C182.55,96 182.85,98.2 183.3,99.9 C183.75,101.6 183.97,104 184.5,104.1 C185.03,104.2 185.67,101.5 186.5,100.5 C187.33,99.5 188.6,98.4 189.5,98.1 C190.4,97.8 191.1,98 191.9,98.7 C192.7,99.4 193.5,100.5 194.3,102.3 C195.1,104.1 196,107.9 196.7,109.5 C197.4,111.1 197.8,112.1 198.5,111.9 C199.2,111.7 200.2,108.7 200.9,108.3 C201.6,107.9 202.4,109.3 202.7,109.5 L202.7,109.5 L205.3,137 L207.1,113.7 L210.4,117.5 L215.2,120.4 L218.2,138 L220.9,124.2 L224.7,127.1 L228.6,130 L231.4,139.5 L233.4,134.7 L235.4,160.6 L237.8,142.4 L241,145.3 L246.7,145.3 L249,154.8" fill="none" stroke="#2b679a" stroke-width="1.4" stroke-linejoin="round"/>
<path d="M34,14.2 C36.03,14.82 42.12,16.37 46.2,17.9 C50.28,19.43 54.42,21.57 58.5,23.4 C62.58,25.23 66.62,26.97 70.7,28.9 C74.78,30.83 78.92,33.07 83,35 C87.08,36.93 90.77,38.13 95.2,40.5 C99.63,42.87 105.6,46.88 109.6,49.2 C113.6,51.52 116.02,52.82 119.2,54.4 C122.38,55.98 125.52,57.33 128.7,58.7 C131.88,60.07 135.93,61.55 138.3,62.6 C140.67,63.65 142.13,64.6 142.9,65" fill="none" stroke="#2b679a" stroke-width="1.2" stroke-dasharray="4.2,2.3"/>
<line x1="110.5" y1="21.3" x2="102.99" y2="28.69" stroke="#111" stroke-width="1.15"/>
<polygon points="98,33.6 100.96,26.62 105.02,30.76" fill="#111"/>
<line x1="75.4" y1="49.3" x2="82.38" y2="42.78" stroke="#111" stroke-width="1.15"/>
<polygon points="87.5,38 84.36,44.9 80.4,40.66" fill="#111"/>
<line x1="151" y1="55.5" x2="147.6" y2="59.11" stroke="#111" stroke-width="1.15"/>
<polygon points="142.8,64.2 145.49,57.12 149.71,61.1" fill="#111"/>
<rect x="84" y="12" width="40" height="9.5" fill="#fff"/>
<text x="85" y="18.8" text-anchor="start" font-size="6.8" font-weight="bold" fill="#2b2b2b" stroke="#2b2b2b" stroke-width="0.22" word-spacing="-0.5" letter-spacing="-0.1">C<tspan font-size="5.6" dy="1.7">TH</tspan><tspan dy="-1.7"> = 510 pF</tspan></text>
<rect x="42" y="49.5" width="43" height="9.5" fill="#fff"/>
<text x="43.2" y="56" text-anchor="start" font-size="6.8" font-weight="bold" fill="#2b2b2b" stroke="#2b2b2b" stroke-width="0.22" word-spacing="-0.5" letter-spacing="-0.1">C<tspan font-size="5.6" dy="1.7">TH</tspan><tspan dy="-1.7"> = 1500 pF</tspan></text>
<rect x="152" y="46" width="51" height="15" fill="#fff"/>
<text x="153.2" y="53.7" text-anchor="start" font-size="6.9" font-weight="bold" fill="#2b2b2b" stroke="#2b2b2b" stroke-width="0.22" letter-spacing="-0.2">128.88 mdB</text>
<text x="153.2" y="60.6" text-anchor="start" font-size="6.8" font-weight="bold" fill="#2b2b2b" stroke="#2b2b2b" stroke-width="0.22" word-spacing="0" letter-spacing="-0.35">Δ = +192.15 mdB</text>
<rect x="125.5" y="166.5" width="33" height="8" fill="#fff"/>
<text x="142.2" y="172.8" text-anchor="middle" font-size="7" font-weight="bold" fill="#2b2b2b" stroke="#2b2b2b" stroke-width="0.22" >32.88 kHz</text>
<text x="71.4" y="92" text-anchor="middle" font-size="7" font-weight="bold" fill="#2b2b2b" stroke="#2b2b2b" stroke-width="0.22" >Comp. Network</text>
<text x="71.9" y="103.2" text-anchor="middle" font-size="7" font-weight="bold" fill="#2b2b2b" stroke="#2b2b2b" stroke-width="0.22" >COMP/ITH</text>
<line x1="70.2" y1="106.5" x2="70.2" y2="111.7" stroke="#3c3c3c" stroke-width="1.15"/>
<line x1="59.8" y1="111.7" x2="80.2" y2="111.7" stroke="#3c3c3c" stroke-width="1.15"/>
<line x1="59.8" y1="111.7" x2="59.8" y2="118.4" stroke="#3c3c3c" stroke-width="1.15"/>
<polyline points="59.8,118.4 61.6,119.6 58.2,121.4 61.6,123.2 58.2,125 61.6,126.6 59.8,127.6" fill="none" stroke="#3c3c3c" stroke-width="1.0"/>
<line x1="59.8" y1="127.6" x2="59.8" y2="140.2" stroke="#3c3c3c" stroke-width="1.15"/>
<line x1="56" y1="140.2" x2="63.8" y2="140.2" stroke="#3c3c3c" stroke-width="1.1"/>
<line x1="56" y1="143.2" x2="63.8" y2="143.2" stroke="#3c3c3c" stroke-width="1.1"/>
<line x1="59.8" y1="143.2" x2="59.8" y2="152" stroke="#3c3c3c" stroke-width="1.15"/>
<line x1="80.2" y1="111.7" x2="80.2" y2="131" stroke="#3c3c3c" stroke-width="1.15"/>
<line x1="76" y1="131" x2="85" y2="131" stroke="#3c3c3c" stroke-width="1.1"/>
<line x1="76" y1="133.6" x2="85" y2="133.6" stroke="#3c3c3c" stroke-width="1.1"/>
<line x1="80.2" y1="133.6" x2="80.2" y2="152" stroke="#3c3c3c" stroke-width="1.15"/>
<line x1="59.8" y1="152" x2="80.2" y2="152" stroke="#3c3c3c" stroke-width="1.15"/>
<line x1="70.2" y1="152" x2="70.2" y2="157" stroke="#3c3c3c" stroke-width="1.15"/>
<line x1="66" y1="157.2" x2="74.4" y2="157.2" stroke="#3c3c3c" stroke-width="1.15"/>
<line x1="67.5" y1="159.2" x2="73" y2="159.2" stroke="#3c3c3c" stroke-width="1.15"/>
<line x1="69" y1="161.2" x2="71.5" y2="161.2" stroke="#3c3c3c" stroke-width="1.15"/>
<text x="44" y="123.5" text-anchor="start" font-size="7" font-weight="bold" fill="#2b2b2b" stroke="#2b2b2b" stroke-width="0.22" >R<tspan font-size="5.6" dy="1.7">TH</tspan></text>
<text x="42.3" y="142.2" text-anchor="start" font-size="7" font-weight="bold" fill="#2b2b2b" stroke="#2b2b2b" stroke-width="0.22" >C<tspan font-size="5.6" dy="1.7">TH</tspan></text>
<text x="85.2" y="132.7" text-anchor="start" font-size="7" font-weight="bold" fill="#2b2b2b" stroke="#2b2b2b" stroke-width="0.22" >C<tspan font-size="5.6" dy="1.7">THP</tspan></text>
<line x1="34" y1="294.2" x2="249" y2="294.2" stroke="#2b679a" stroke-width="1.4"/>
<line x1="141.6" y1="207.5" x2="141.6" y2="379" stroke="#62b86c" stroke-width="1.5"/>
<line x1="143.2" y1="207.5" x2="143.2" y2="379" stroke="#f0f0b8" stroke-width="1.3"/>
<line x1="184.4" y1="207.5" x2="184.4" y2="379" stroke="#c23a58" stroke-width="1.15"/>
<path d="M34.3,231.2 C35.97,232.42 41.03,236.1 44.3,238.5 C47.57,240.9 50.3,243.02 53.9,245.6 C57.5,248.18 61.92,251.2 65.9,254 C69.88,256.8 73.82,259.73 77.8,262.4 C81.78,265.07 85.82,267.82 89.8,270 C93.78,272.18 97.92,274.27 101.7,275.5 C105.48,276.73 108.52,277.6 112.5,277.4 C116.48,277.2 121.82,275.62 125.6,274.3 C129.38,272.98 132.4,270.88 135.2,269.5 C138,268.12 139.43,267.28 142.4,266 C145.37,264.72 150.35,262.57 153,261.8 C155.65,261.03 155.92,261.1 158.3,261.4 C160.68,261.7 164.3,262.48 167.3,263.6 C170.3,264.72 173.45,266.22 176.3,268.1 C179.15,269.98 183.05,273.77 184.4,274.9" fill="none" stroke="#d05645" stroke-width="1.5"/>
<path d="M34.3,242.3 C37.57,243.85 46.65,248.25 53.9,251.6 C61.15,254.95 71.82,259.8 77.8,262.4 C83.78,265 85.82,265.93 89.8,267.2 C93.78,268.47 97.72,269.8 101.7,270 C105.68,270.2 109.72,269.27 113.7,268.4 C117.68,267.53 120.82,266.37 125.6,264.8 C130.38,263.23 137.83,260.25 142.4,259 C146.97,257.75 150.05,257.2 153,257.3 C155.95,257.4 157.93,258.62 160.1,259.6 C162.27,260.58 165.02,262.6 166,263.2" fill="none" stroke="#d05645" stroke-width="1.1" stroke-dasharray="4.2,2.3"/>
<polyline points="184.4,274.9 184.4,348.5 196.5,354.5 198.4,283 204.6,287.8 206.9,364.7 208.8,222.7 213.2,301.5 215.7,235.1 218,240 219.5,319.7 222.2,254.3 224.1,336 226.6,272.1 229.1,354.2 233.3,307.2 235.2,250.5 240,285.9 242,234.2 246.4,358 248.7,328.3" fill="none" stroke="#d05645" stroke-width="1.1" stroke-linejoin="round"/>
<line x1="112.2" y1="282.2" x2="112.2" y2="289.8" stroke="#555" stroke-width="0.8"/>
<polygon points="112.2,279.2 110.7,283.7 113.7,283.7" fill="#111"/>
<polygon points="112.2,292.8 110.7,288.3 113.7,288.3" fill="#111"/>
<line x1="153.9" y1="255.5" x2="148.46" y2="260.47" stroke="#111" stroke-width="1.15"/>
<polygon points="143.3,265.2 146.51,258.33 150.42,262.61" fill="#111"/>
<rect x="151" y="238" width="37.5" height="16" fill="#fff"/>
<text x="152.6" y="245" text-anchor="start" font-size="7" font-weight="bold" fill="#2b2b2b" stroke="#2b2b2b" stroke-width="0.22" letter-spacing="0">69.95°</text>
<text x="152.6" y="252.6" text-anchor="start" font-size="7" font-weight="bold" fill="#2b2b2b" stroke="#2b2b2b" stroke-width="0.22" letter-spacing="0">Δ = -16.82°</text>
<rect x="125.5" y="368.5" width="33" height="8" fill="#fff"/>
<text x="142.2" y="374.8" text-anchor="middle" font-size="7" font-weight="bold" fill="#2b2b2b" stroke="#2b2b2b" stroke-width="0.22" >32.88 kHz</text>
<path d="M315.8,90.4 L371.0,90.4 L371.4,128 L371.4,128 C371.6,132.5 372.07,152.93 372.6,155 C373.13,157.07 373.95,146.33 374.6,140.4 C375.25,134.47 375.87,125.77 376.5,119.4 C377.13,113.03 377.6,106.82 378.4,102.2 C379.2,97.58 380.03,94 381.3,91.7 C382.57,89.4 384.25,88.82 386,88.4 C387.75,87.98 389.8,88.88 391.8,89.2 C393.8,89.52 394.97,90.1 398,90.3 C401.03,90.5 408,90.38 410,90.4 L482.1,90.4 L482.1,40 L482.1,40 C482.23,37.08 482.53,23.33 482.9,22.5 C483.27,21.67 483.78,29.98 484.3,35 C484.82,40.02 485.27,45.72 486,52.6 C486.73,59.48 487.6,69.93 488.7,76.3 C489.8,82.67 491.28,88.08 492.6,90.8 C493.92,93.52 494.83,92.6 496.6,92.6 C498.37,92.6 500.63,91.17 503.2,90.8 C505.77,90.43 510.53,90.47 512,90.4 L530.4,90.4" fill="none" stroke="#7a56a0" stroke-width="1.3" stroke-linejoin="round"/>
<path d="M372.4,154 C372.55,155.25 372.52,162.58 373.3,161.5 C374.08,160.42 376.03,152.42 377.1,147.5 C378.17,142.58 378.6,137.25 379.7,132 C380.8,126.75 382.17,120.67 383.7,116 C385.23,111.33 386.72,107.33 388.9,104 C391.08,100.67 393.72,98 396.8,96 C399.88,94 403.45,92.9 407.4,92 C411.35,91.1 415.07,90.87 420.5,90.6 C425.93,90.33 436.75,90.43 440,90.4" fill="none" stroke="#7a56a0" stroke-width="1.2" stroke-dasharray="4.2,2.3"/>
<path d="M482.8,30 C483.03,28.08 483.22,18.23 484.2,18.5 C485.18,18.77 487.3,26.13 488.7,31.6 C490.1,37.07 491.07,44.95 492.6,51.3 C494.13,57.65 495.7,64.65 497.9,69.7 C500.1,74.75 502.73,78.52 505.8,81.6 C508.87,84.68 512.8,86.8 516.3,88.2 C519.8,89.6 524.52,89.65 526.8,90 C529.08,90.35 529.47,90.25 530,90.3" fill="none" stroke="#7a56a0" stroke-width="1.2" stroke-dasharray="4.2,2.3"/>
<rect x="338.5" y="77.5" width="18" height="9.5" fill="#fff"/>
<text x="340" y="84" text-anchor="start" font-size="7" font-weight="bold" fill="#2b2b2b" stroke="#2b2b2b" stroke-width="0.22" >V<tspan font-size="5.4" dy="1.6">OUT</tspan></text>
<polyline points="315.8,363.3 371.2,363.3 371.2,221.3 481.5,221.3 481.5,363.3 530.4,363.3" fill="none" stroke="#3d9f80" stroke-width="1.4"/>
<rect x="377" y="236.5" width="32.5" height="10.5" fill="#fff"/>
<text x="377.8" y="243.2" text-anchor="start" font-size="7.4" font-weight="bold" fill="#2b2b2b" stroke="#2b2b2b" stroke-width="0.22" >I<tspan font-size="6.3" dy="1.9">OUT (Step)</tspan></text>
<rect x="34" y="5" width="215" height="172" fill="none" stroke="#484848" stroke-width="1.6"/>
<rect x="34" y="207.5" width="215" height="171.5" fill="none" stroke="#484848" stroke-width="1.6"/>
<rect x="315.8" y="5" width="214.6" height="172" fill="none" stroke="#484848" stroke-width="1.6"/>
<rect x="315.8" y="207.3" width="214.6" height="171.7" fill="none" stroke="#484848" stroke-width="1.6"/>
<text x="30.9" y="14.05" text-anchor="end" font-size="6.8" font-weight="bold" fill="#2b2b2b" stroke="#2b2b2b" stroke-width="0.22" >60</text>
<text x="30.9" y="31.9" text-anchor="end" font-size="6.8" font-weight="bold" fill="#2b2b2b" stroke="#2b2b2b" stroke-width="0.22" >40</text>
<text x="30.9" y="49.75" text-anchor="end" font-size="6.8" font-weight="bold" fill="#2b2b2b" stroke="#2b2b2b" stroke-width="0.22" >20</text>
<text x="30.9" y="67.6" text-anchor="end" font-size="6.8" font-weight="bold" fill="#2b2b2b" stroke="#2b2b2b" stroke-width="0.22" >0</text>
<text x="30.9" y="85.45" text-anchor="end" font-size="6.8" font-weight="bold" fill="#2b2b2b" stroke="#2b2b2b" stroke-width="0.22" >–20</text>
<text x="30.9" y="103.3" text-anchor="end" font-size="6.8" font-weight="bold" fill="#2b2b2b" stroke="#2b2b2b" stroke-width="0.22" >–40</text>
<text x="30.9" y="121.15" text-anchor="end" font-size="6.8" font-weight="bold" fill="#2b2b2b" stroke="#2b2b2b" stroke-width="0.22" >–60</text>
<text x="30.9" y="139" text-anchor="end" font-size="6.8" font-weight="bold" fill="#2b2b2b" stroke="#2b2b2b" stroke-width="0.22" >–80</text>
<text x="30.9" y="156.85" text-anchor="end" font-size="6.8" font-weight="bold" fill="#2b2b2b" stroke="#2b2b2b" stroke-width="0.22" >–100</text>
<text x="30.9" y="174.7" text-anchor="end" font-size="6.8" font-weight="bold" fill="#2b2b2b" stroke="#2b2b2b" stroke-width="0.22" >–120</text>
<text x="30.4" y="216.26" text-anchor="end" font-size="6.8" font-weight="bold" fill="#2b2b2b" stroke="#2b2b2b" stroke-width="0.22" >200</text>
<text x="30.4" y="236.32" text-anchor="end" font-size="6.8" font-weight="bold" fill="#2b2b2b" stroke="#2b2b2b" stroke-width="0.22" >150</text>
<text x="30.4" y="256.38" text-anchor="end" font-size="6.8" font-weight="bold" fill="#2b2b2b" stroke="#2b2b2b" stroke-width="0.22" >100</text>
<text x="30.4" y="276.44" text-anchor="end" font-size="6.8" font-weight="bold" fill="#2b2b2b" stroke="#2b2b2b" stroke-width="0.22" >50</text>
<text x="30.4" y="296.5" text-anchor="end" font-size="6.8" font-weight="bold" fill="#2b2b2b" stroke="#2b2b2b" stroke-width="0.22" >0</text>
<text x="30.4" y="316.56" text-anchor="end" font-size="6.8" font-weight="bold" fill="#2b2b2b" stroke="#2b2b2b" stroke-width="0.22" >–50</text>
<text x="30.4" y="336.62" text-anchor="end" font-size="6.8" font-weight="bold" fill="#2b2b2b" stroke="#2b2b2b" stroke-width="0.22" >–1000</text>
<text x="30.4" y="356.68" text-anchor="end" font-size="6.8" font-weight="bold" fill="#2b2b2b" stroke="#2b2b2b" stroke-width="0.22" >–150</text>
<text x="30.4" y="376.74" text-anchor="end" font-size="6.8" font-weight="bold" fill="#2b2b2b" stroke="#2b2b2b" stroke-width="0.22" >–200</text>
<text x="313.2" y="31.4" text-anchor="end" font-size="6.8" font-weight="bold" fill="#2b2b2b" stroke="#2b2b2b" stroke-width="0.22" letter-spacing="-0.1">40 mV</text>
<text x="313.2" y="62.4" text-anchor="end" font-size="6.8" font-weight="bold" fill="#2b2b2b" stroke="#2b2b2b" stroke-width="0.22" letter-spacing="-0.1">20 mV</text>
<text x="313.2" y="93.4" text-anchor="end" font-size="6.8" font-weight="bold" fill="#2b2b2b" stroke="#2b2b2b" stroke-width="0.22" letter-spacing="-0.1">0 V</text>
<text x="313.2" y="124.4" text-anchor="end" font-size="6.8" font-weight="bold" fill="#2b2b2b" stroke="#2b2b2b" stroke-width="0.22" letter-spacing="-0.1">–20 mV</text>
<text x="313.2" y="155.4" text-anchor="end" font-size="6.8" font-weight="bold" fill="#2b2b2b" stroke="#2b2b2b" stroke-width="0.22" letter-spacing="-0.1">–40 mV</text>
<text x="312.8" y="224.3" text-anchor="end" font-size="6.8" font-weight="bold" fill="#2b2b2b" stroke="#2b2b2b" stroke-width="0.22" letter-spacing="0">10.0</text>
<text x="312.8" y="252.64" text-anchor="end" font-size="6.8" font-weight="bold" fill="#2b2b2b" stroke="#2b2b2b" stroke-width="0.22" letter-spacing="0">8.0</text>
<text x="312.8" y="280.98" text-anchor="end" font-size="6.8" font-weight="bold" fill="#2b2b2b" stroke="#2b2b2b" stroke-width="0.22" letter-spacing="0">6.0</text>
<text x="312.8" y="309.32" text-anchor="end" font-size="6.8" font-weight="bold" fill="#2b2b2b" stroke="#2b2b2b" stroke-width="0.22" letter-spacing="0">4.0</text>
<text x="312.8" y="337.66" text-anchor="end" font-size="6.8" font-weight="bold" fill="#2b2b2b" stroke="#2b2b2b" stroke-width="0.22" letter-spacing="0">2.0</text>
<text x="312.8" y="366" text-anchor="end" font-size="6.8" font-weight="bold" fill="#2b2b2b" stroke="#2b2b2b" stroke-width="0.22" letter-spacing="0">0.0</text>
<text x="40.3" y="185" text-anchor="middle" font-size="6.8" font-weight="bold" fill="#2b2b2b" stroke="#2b2b2b" stroke-width="0.22" >100 Hz</text>
<text x="40.3" y="387.8" text-anchor="middle" font-size="6.8" font-weight="bold" fill="#2b2b2b" stroke="#2b2b2b" stroke-width="0.22" >100 Hz</text>
<text x="77.6" y="185" text-anchor="middle" font-size="6.8" font-weight="bold" fill="#2b2b2b" stroke="#2b2b2b" stroke-width="0.22" >1 kHz</text>
<text x="77.6" y="387.8" text-anchor="middle" font-size="6.8" font-weight="bold" fill="#2b2b2b" stroke="#2b2b2b" stroke-width="0.22" >1 kHz</text>
<text x="121.1" y="185" text-anchor="middle" font-size="6.8" font-weight="bold" fill="#2b2b2b" stroke="#2b2b2b" stroke-width="0.22" >10 kHz</text>
<text x="121.1" y="387.8" text-anchor="middle" font-size="6.8" font-weight="bold" fill="#2b2b2b" stroke="#2b2b2b" stroke-width="0.22" >10 kHz</text>
<text x="164.6" y="185" text-anchor="middle" font-size="6.8" font-weight="bold" fill="#2b2b2b" stroke="#2b2b2b" stroke-width="0.22" >100 kHz</text>
<text x="164.6" y="387.8" text-anchor="middle" font-size="6.8" font-weight="bold" fill="#2b2b2b" stroke="#2b2b2b" stroke-width="0.22" >100 kHz</text>
<text x="208.1" y="185" text-anchor="middle" font-size="6.8" font-weight="bold" fill="#2b2b2b" stroke="#2b2b2b" stroke-width="0.22" word-spacing="-1">1 MHz</text>
<text x="208.1" y="387.8" text-anchor="middle" font-size="6.8" font-weight="bold" fill="#2b2b2b" stroke="#2b2b2b" stroke-width="0.22" word-spacing="-1">1 MHz</text>
<text x="315.8" y="184.8" text-anchor="middle" font-size="6.8" font-weight="bold" fill="#2b2b2b" stroke="#2b2b2b" stroke-width="0.22" letter-spacing="0">0 s</text>
<text x="315.8" y="388" text-anchor="middle" font-size="6.8" font-weight="bold" fill="#2b2b2b" stroke="#2b2b2b" stroke-width="0.22" letter-spacing="0">0 s</text>
<text x="357.45" y="184.8" text-anchor="middle" font-size="6.8" font-weight="bold" fill="#2b2b2b" stroke="#2b2b2b" stroke-width="0.22" letter-spacing="0">100 μs</text>
<text x="357.45" y="388" text-anchor="middle" font-size="6.8" font-weight="bold" fill="#2b2b2b" stroke="#2b2b2b" stroke-width="0.22" letter-spacing="0">100 μs</text>
<text x="399.1" y="184.8" text-anchor="middle" font-size="6.8" font-weight="bold" fill="#2b2b2b" stroke="#2b2b2b" stroke-width="0.22" letter-spacing="0">200 μs</text>
<text x="399.1" y="388" text-anchor="middle" font-size="6.8" font-weight="bold" fill="#2b2b2b" stroke="#2b2b2b" stroke-width="0.22" letter-spacing="0">200 μs</text>
<text x="440.75" y="184.8" text-anchor="middle" font-size="6.8" font-weight="bold" fill="#2b2b2b" stroke="#2b2b2b" stroke-width="0.22" letter-spacing="0">300 μs</text>
<text x="440.75" y="388" text-anchor="middle" font-size="6.8" font-weight="bold" fill="#2b2b2b" stroke="#2b2b2b" stroke-width="0.22" letter-spacing="0">300 μs</text>
<text x="482.4" y="184.8" text-anchor="middle" font-size="6.8" font-weight="bold" fill="#2b2b2b" stroke="#2b2b2b" stroke-width="0.22" letter-spacing="0">400 μs</text>
<text x="482.4" y="388" text-anchor="middle" font-size="6.8" font-weight="bold" fill="#2b2b2b" stroke="#2b2b2b" stroke-width="0.22" letter-spacing="0">400 μs</text>
<text x="524.05" y="184.8" text-anchor="middle" font-size="6.8" font-weight="bold" fill="#2b2b2b" stroke="#2b2b2b" stroke-width="0.22" letter-spacing="0">500 μs</text>
<text x="524.05" y="388" text-anchor="middle" font-size="6.8" font-weight="bold" fill="#2b2b2b" stroke="#2b2b2b" stroke-width="0.22" letter-spacing="0">500 μs</text>
<text x="141.8" y="194.6" text-anchor="middle" font-size="7" font-weight="bold" fill="#2b2b2b" stroke="#2b2b2b" stroke-width="0.22" >Frequency</text>
<text x="141.8" y="396.9" text-anchor="middle" font-size="7" font-weight="bold" fill="#2b2b2b" stroke="#2b2b2b" stroke-width="0.22" >Frequency</text>
<text x="423.4" y="194.1" text-anchor="middle" font-size="7" font-weight="bold" fill="#2b2b2b" stroke="#2b2b2b" stroke-width="0.22" >Time</text>
<text x="423.4" y="397" text-anchor="middle" font-size="7" font-weight="bold" fill="#2b2b2b" stroke="#2b2b2b" stroke-width="0.22" >Time</text>
<text x="141.8" y="413.2" text-anchor="middle" font-size="7.4" font-weight="bold" fill="#2b2b2b" stroke="#2b2b2b" stroke-width="0.22" letter-spacing="0.3">(a)</text>
<text x="423.4" y="413.1" text-anchor="middle" font-size="7.4" font-weight="bold" fill="#2b2b2b" stroke="#2b2b2b" stroke-width="0.22" letter-spacing="0.3">(b)</text>
<text x="0" y="0" text-anchor="middle" font-size="7" font-weight="bold" fill="#2b2b2b" stroke="#2b2b2b" stroke-width="0.22" transform="translate(10,89.8) rotate(-90)">Magnitude (dB)</text>
<text x="0" y="0" text-anchor="middle" font-size="7" font-weight="bold" fill="#2b2b2b" stroke="#2b2b2b" stroke-width="0.22" transform="translate(10.2,292.5) rotate(-90)">Phase (Deg)</text>
<text x="0" y="0" text-anchor="middle" font-size="6.75" font-weight="bold" fill="#2b2b2b" stroke="#2b2b2b" stroke-width="0.22" transform="translate(282.4,91.2) rotate(-90)">V<tspan font-size="5.6" dy="1.7">OUT</tspan><tspan dy="-1.7"> (AC Coupled)</tspan></text>
<text x="0" y="0" text-anchor="middle" font-size="7" font-weight="bold" fill="#2b2b2b" stroke="#2b2b2b" stroke-width="0.22" transform="translate(296.4,292.3) rotate(-90)">I<tspan font-size="5.6" dy="1.7">OUT</tspan><tspan dy="-1.7">- IL (A)</tspan></text>
</g></svg>
</body></html>
